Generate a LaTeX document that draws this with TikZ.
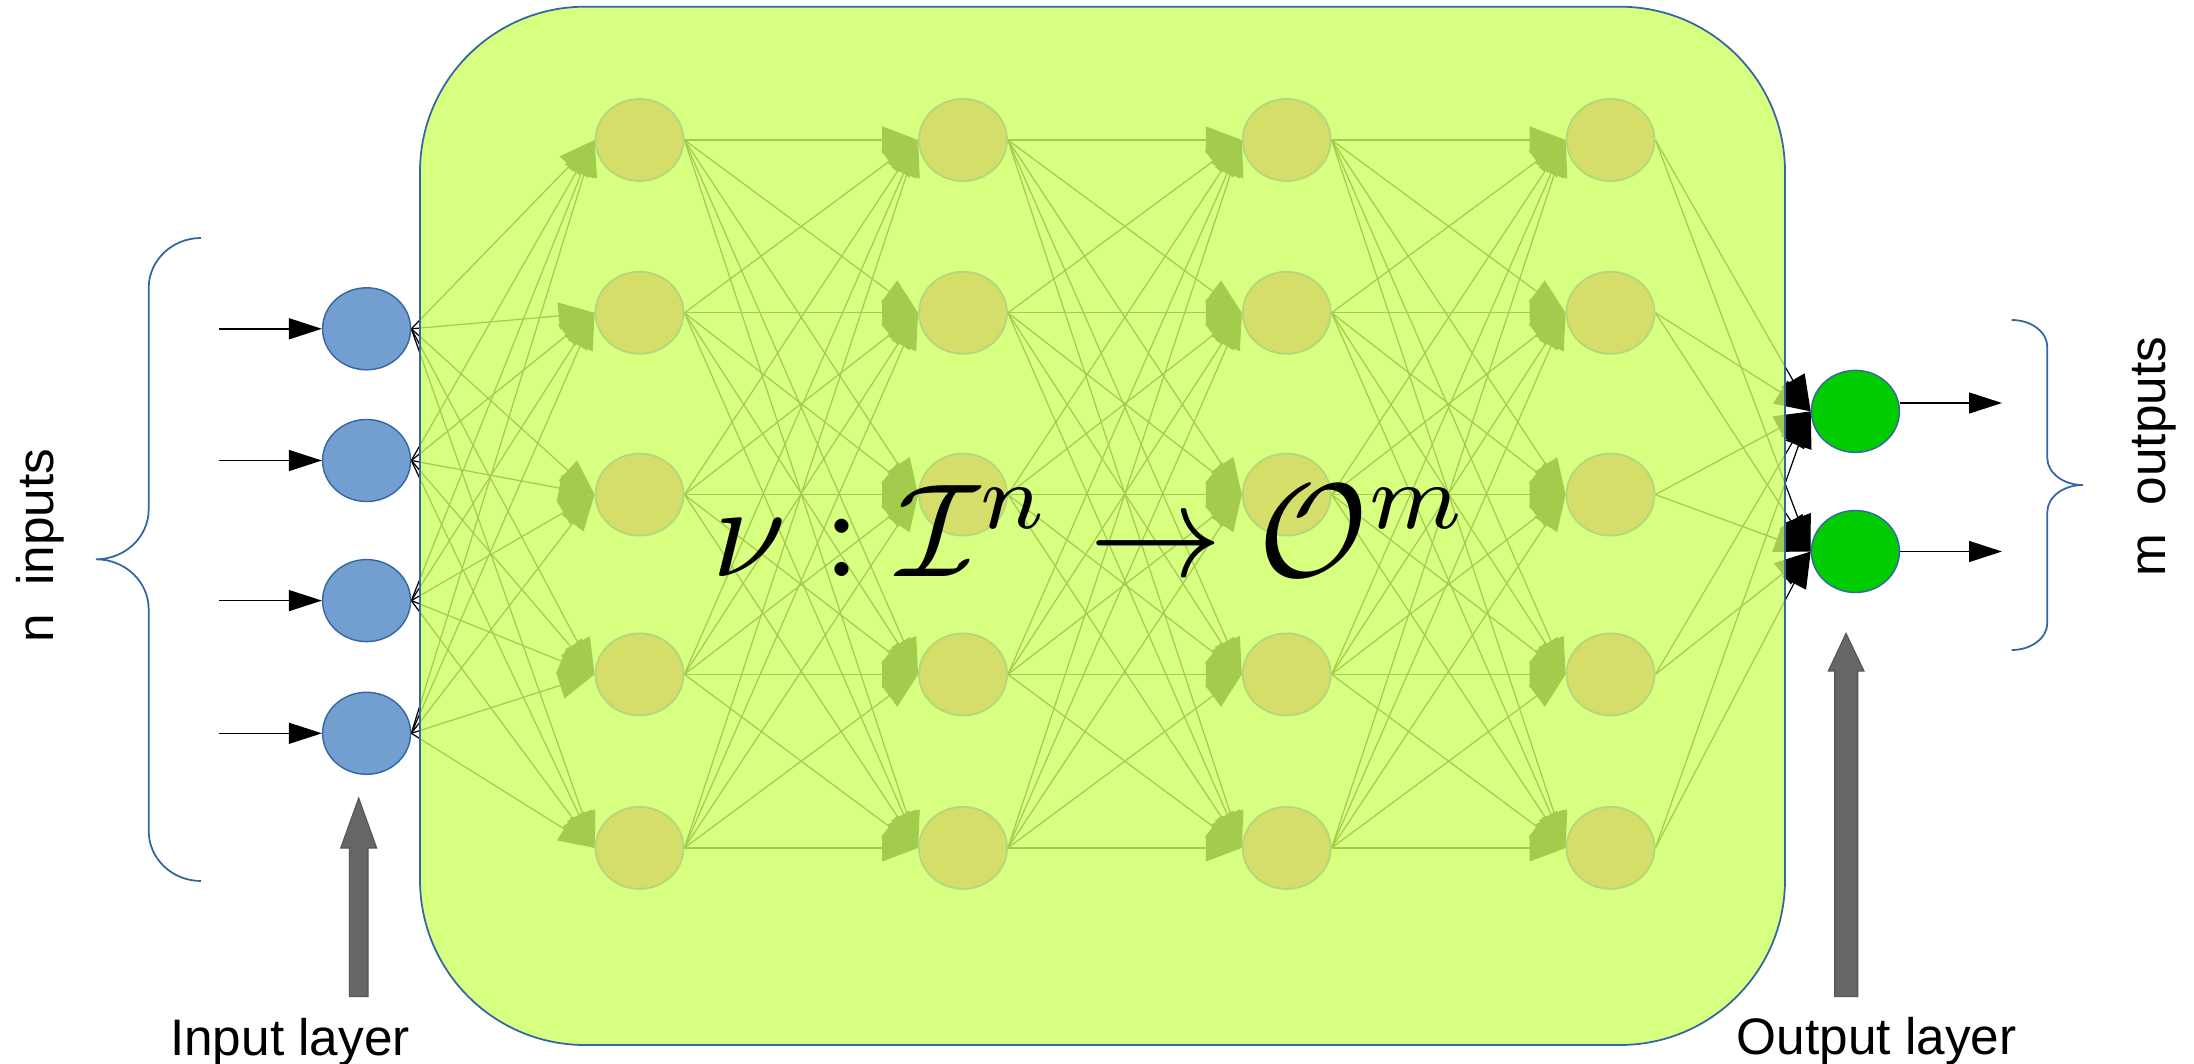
\documentclass[tikz,border=0pt]{standalone}
\usepackage[no-math]{fontspec}
\newfontfamily\lsans{Liberation Sans}
\usepackage{graphicx}
\usetikzlibrary{arrows.meta,shapes.geometric}
\pgfdeclarelayer{netlines}
\pgfdeclarelayer{tint}
\pgfsetlayers{netlines,tint,main}
\definecolor{ovfill}{RGB}{205,255,96}
\definecolor{lbord}{RGB}{52,101,164}
\definecolor{inblue}{RGB}{114,159,207}
\definecolor{outgreen}{RGB}{0,204,0}
\definecolor{hidfill}{RGB}{212,222,104}
\definecolor{hidbord}{RGB}{180,214,124}
\definecolor{grayarr}{RGB}{102,102,102}
\definecolor{grayedge}{RGB}{85,85,85}
\begin{document}
\begin{tikzpicture}[x=0.01cm,y=-0.01cm,
  neuron/.style={ellipse,minimum width=8.8mm,minimum height=8.2mm,inner sep=0pt},
  innode/.style={neuron,fill=inblue,draw=lbord,line width=0.4pt},
  outnode/.style={neuron,fill=outgreen,draw=lbord,line width=0.4pt},
  hidnode/.style={neuron,fill=hidfill,draw=hidbord,line width=0.5pt},
  conn/.style={black,line width=0.35pt,-{Triangle[length=3.6mm,width=2.7mm]}},
  ext/.style={black,line width=0.4pt,-{Triangle[length=3.3mm,width=2.1mm]}},
  brace/.style={draw=lbord,line width=0.5pt},
  grayshape/.style={fill=grayarr,draw=grayedge,line width=0.3pt},
  lbl/.style={font=\lsans\fontsize{14.6pt}{17pt}\selectfont,inner sep=0pt},
]
\useasboundingbox (0,0) rectangle (2194,1064);

% input nodes
\foreach \k/\y in {1/328.8,2/460.5,3/600.6,4/733.3}{
  \node[innode] (i\k) at (366.6,\y) {};
  \coordinate (s\k) at (218.75,\y);
  \draw[ext] (s\k) -- (i\k.west);
}
% hidden nodes
\foreach \c/\x in {1/639.5,2/963,3/1286.7,4/1610.5}{
  \foreach \r/\y in {1/140,2/312.8,3/494.6,4/674.4,5/847.9}{
    \node[hidnode] (h\c-\r) at (\x,\y) {};
  }
}
% output nodes
\node[outnode] (o1) at (1855.4,411.4) {};
\node[outnode] (o2) at (1855.4,551.5) {};
\coordinate (e1) at (2002,403);
\coordinate (e2) at (2002,551.5);
\draw[ext] (o1.east |- e1) -- (e1);
\draw[ext] (o2.east) -- (e2);

% connections (under the tint)
\begin{pgfonlayer}{netlines}
\foreach \k in {1,...,4}{
  \foreach \r in {1,...,5}{
    \draw[conn] (i\k.east) -- (h1-\r.west);
  }
}
\foreach \c in {1,2,3}{
  \pgfmathtruncatemacro\nx{\c+1}
  \foreach \a in {1,...,5}{
    \foreach \b in {1,...,5}{
      \draw[conn] (h\c-\a.east) -- (h\nx-\b.west);
    }
  }
}
\foreach \a in {1,...,5}{
  \foreach \b in {1,2}{
    \draw[conn] (h4-\a.east) -- (o\b.west);
  }
}
\end{pgfonlayer}

% tinted box
\begin{pgfonlayer}{tint}
\draw[fill=ovfill,fill opacity=0.8,draw=lbord,line width=0.5pt,rounded corners=1.65cm] (420,6.7) rectangle (1785,1045);
\end{pgfonlayer}

% formula
\node[anchor=base west,inner sep=0pt] (formula) at (712,577) {\scalebox{3.78}{$\nu : \mathcal{I}^n \to \mathcal{O}^m$}};

% braces
\draw[brace] (201,238) .. controls (172.1,238) and (148.7,260.4) .. (148.7,288)
  -- (148.7,509.3) .. controls (148.7,536.9) and (125.1,559.3) .. (96,559.3)
  .. controls (125.1,559.3) and (148.7,581.7) .. (148.7,609.3)
  -- (148.7,831) .. controls (148.7,858.6) and (172.1,881) .. (201,881);
\draw[brace] (2011.7,320) .. controls (2031.4,320) and (2047.3,332.1) .. (2047.3,347)
  -- (2047.3,458) .. controls (2047.3,472.9) and (2063.2,485) .. (2082.7,485)
  .. controls (2063.2,485) and (2047.3,497.1) .. (2047.3,512)
  -- (2047.3,623) .. controls (2047.3,637.9) and (2031.4,650) .. (2011.7,650);

% gray arrows
\draw[grayshape] (349.3,996.7) -- (349.3,848) -- (340.7,848) -- (358.7,798) -- (376.7,848) -- (368,848) -- (368,996.7) -- cycle;
\draw[grayshape] (1834.7,996.7) -- (1834.7,671) -- (1828.3,671) -- (1846,633.3) -- (1864,671) -- (1857.7,671) -- (1857.7,996.7) -- cycle;

% labels
\node[lbl,anchor=base] (inlbl) at (290,1055) {Input layer};
\node[lbl,anchor=base] (outlbl) at (1876.7,1054) {Output layer};
\node[lbl,rotate=90,anchor=base] (nin) at (53.3,545.8) {n~~inputs};
\node[lbl,rotate=90,anchor=base] (mout) at (2165,456.7) {m~~outputs};
\end{tikzpicture}
\end{document}
